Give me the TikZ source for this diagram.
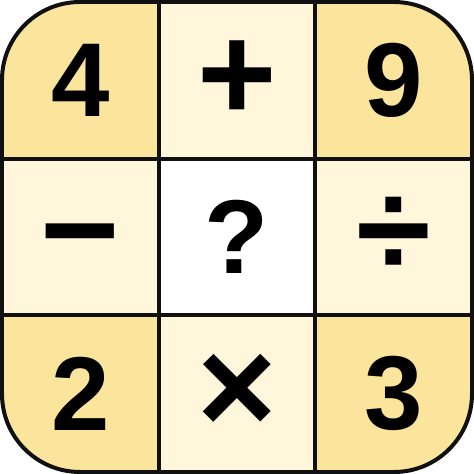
\documentclass[tikz,border=0pt]{standalone}
\usepackage{fontspec}
\setmainfont{Liberation Sans}
\usetikzlibrary{positioning}
\definecolor{cornerfill}{RGB}{251,228,156}
\definecolor{sidefill}{RGB}{255,246,220}
\definecolor{gridline}{RGB}{16,16,16}
\newlength\opheight
\AtBeginDocument{\settoheight\opheight{\fontsize{136}{136}\selectfont\bfseries +}}

\begin{document}
\begin{tikzpicture}[
        x=1pt, y=1pt,
        node distance=0pt,
        every node/.style={minimum size=156.67pt, inner sep=0pt, outer sep=0pt, text=black,
            font=\fontsize{105}{105}\selectfont\bfseries},
        corner/.style={fill=cornerfill},
        side/.style={fill=sidefill},
        centre/.style={fill=white},
        op/.style={font=\fontsize{136}{136}\selectfont\bfseries, text height=\opheight, text depth=0pt},
        grid/.style={draw=gridline, line width=4pt}
        ]
        \useasboundingbox (0,0) rectangle (474,474);
        % Cells
        \begin{scope}
        \clip[rounded corners=78pt] (2,2) rectangle (472,472);
        \node[corner] (four) at (80.33,393.67) {4};
        \node[side, op, right=of four] (plus) {+};
        \node[corner, right=of plus] (nine) {9};
        \node[side, op, below=of four] (minus) {−};
        \node[centre, right=of minus] (query) {?};
        \node[side, op, right=of query] (divide) {÷};
        \node[corner, below=of minus] (two) {2};
        \node[side, op, right=of two] (times) {×};
        \node[corner, right=of times] (three) {3};
        \end{scope}

        % Grid
        \draw[grid] (plus.north west) -- (times.south west);
        \draw[grid] (plus.north east) -- (times.south east);
        \draw[grid] (minus.north west) -- (divide.north east);
        \draw[grid] (minus.south west) -- (divide.south east);
        \draw[grid, rounded corners=78pt] (four.north west) rectangle (three.south east);
    \end{tikzpicture}
\end{document}
